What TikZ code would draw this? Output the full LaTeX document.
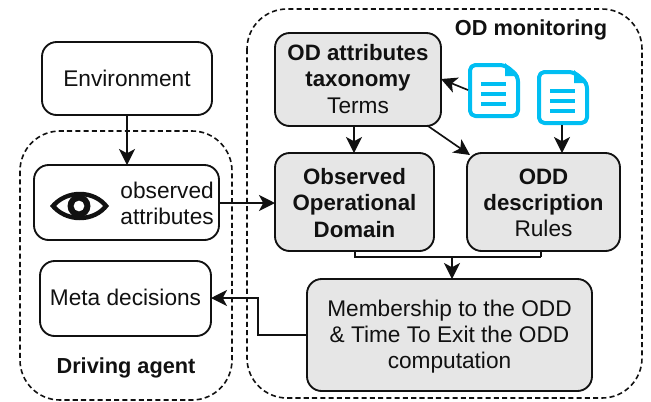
\documentclass[tikz,border=0pt]{standalone}
\usepackage{fontspec}
\setmainfont{Liberation Sans}
\usetikzlibrary{arrows.meta,calc}
\definecolor{boxgray}{HTML}{E6E6E6}
\definecolor{doccyan}{HTML}{00BEF2}
\definecolor{ink}{HTML}{111111}
\newcommand{\tb}[1]{{\fontsize{16.7}{19.6}\bfseries\selectfont #1}}
\tikzset{
  x=0.75pt,y=-0.75pt,
  every node/.style={font=\fontsize{17}{19.6}\selectfont,text=ink,align=center,inner sep=0pt},
  boldlabel/.style={font=\fontsize{16.3}{19.6}\bfseries\selectfont},
  plainbox/.style={draw=ink,line width=1.4pt,rounded corners=11pt,fill=white},
  graybox/.style={plainbox,fill=boxgray},
  region/.style={draw=ink,line width=1.2pt,dash pattern=on 3.8pt off 2.4pt,rounded corners=30pt},
  conn/.style={draw=ink,line width=1.25pt,-{Stealth[length=12pt,width=12pt,inset=3.2pt]}},
  line/.style={draw=ink,line width=1.25pt},
  docline/.style={draw=doccyan,line width=3pt},
}
\newcommand{\docicon}[2]{%
  \fill[doccyan] ($(#1,#2)+(37,0)$) -- ($(#1,#2)+(51,13)$) -- ($(#1,#2)+(37,13)$) -- cycle;
  \draw[docline,rounded corners=4pt,line join=round] ($(#1,#2)+(2,2)$) -- ($(#1,#2)+(37,2)$) -- ($(#1,#2)+(50,13)$) -- ($(#1,#2)+(50,53)$) -- ($(#1,#2)+(2,53)$) -- cycle;
  \foreach \yy in {21,31,41}{\draw[draw=doccyan,line width=3.2pt] ($(#1,#2)+(13,\yy)$) -- ($(#1,#2)+(38,\yy)$);}
}
\begin{document}
\begin{tikzpicture}
\useasboundingbox (0,0) rectangle (651,401);
\draw[region] (20,131) rectangle (232,400);
\draw[region] (247,9) rectangle (642,398);

\draw[plainbox] (42,42) rectangle (212,115);
\node (env) at (127,78.5) {Environment};
\coordinate (envb) at (127,115);

\draw[plainbox] (34,165) rectangle (219,240);
\coordinate (obst) at (127,165);
\coordinate (obsr) at (219,203);
\node[align=right,anchor=east] (obstxt) at (214,203.5) {observed\\attributes};
% eye
\fill[ink,even odd rule] (50,206) .. controls (65,187) and (95,187) .. (109,206) .. controls (95,225) and (65,225) .. (50,206)
  (56,206) .. controls (68,193) and (92,193) .. (103,206) .. controls (92,219) and (68,219) .. (56,206);
\fill[ink,even odd rule] (79,206) circle (11.5) (79,206) circle (5.5);

\draw[plainbox] (40,261) rectangle (211,336);
\node (meta) at (125.5,297) {Meta decisions};
\coordinate (metar) at (211,298);

\draw[graybox] (275,33) rectangle (441,126);
\node (tax) at (358,79) {\tb{OD attributes}\\\tb{taxonomy}\\Terms};
\draw[graybox] (275,153) rectangle (434,251);
\node (ood) at (354.5,203) {\tb{Observed}\\\tb{Operational}\\\tb{Domain}};
\draw[graybox] (467,153) rectangle (620,251);
\node (odd) at (543.5,203) {\tb{ODD}\\\tb{description}\\Rules};
\draw[graybox] (307,279) rectangle (592,391);
\node (mem) at (449.5,336.5) {Membership to the ODD\\\&\ Time To Exit the ODD\\computation};

\node[boldlabel] (odm) at (531,30) {OD monitoring};
\node[boldlabel] (da) at (126,368) {Driving agent};

\docicon{468}{63}
\docicon{537}{70}

\coordinate (d1) at (468,90);
\coordinate (d2) at (562,125);
\draw[conn] (envb) -- (obst);
\draw[conn] (obsr) -- (275,203);
\draw[conn] (d1) -- (441,79);
\draw[conn] (d2) -- (562,153);
\draw[conn] (354,126) -- (354,153);
\draw[conn] (428,126) -- (470,155);
\draw[line] (355,251) |- (541,257);
\draw[line] (541,251) -- (541,257);
\draw[conn] (452,257) -- (452,279);
\draw[conn] (307,335) -- (258,335) -- (258,298) -- (metar);
\end{tikzpicture}
\end{document}
